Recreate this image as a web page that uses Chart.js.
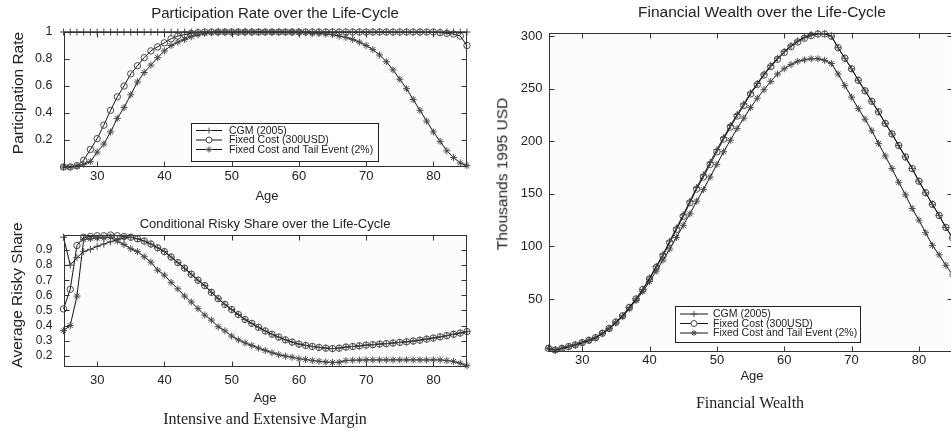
<!DOCTYPE html>
<html>
<head>
<meta charset="utf-8">
<script src="https://cdn.jsdelivr.net/npm/chart.js@4.4.1/dist/chart.umd.min.js"></script>
<style>
  html, body { margin: 0; padding: 0; background: #fff; overflow: hidden; }
  body { width: 951px; height: 432px; position: relative; font-family: "Liberation Sans", Arial, sans-serif; color: #222; }
  canvas { position: absolute; }
  .t { position: absolute; white-space: nowrap; transform: translate(-50%, -50%); line-height: 1; }
  .rot { transform: translate(-50%, -50%) rotate(-90deg); }
  .cap { font-family: "Liberation Serif", "Times New Roman", serif; }
</style>
</head>
<body>
<canvas id="part" width="480" height="190" style="left:0;top:0;width:480px;height:190px"></canvas>
<canvas id="risk" width="480" height="200" style="left:0;top:200px;width:480px;height:200px"></canvas>
<canvas id="wealth" width="480" height="380" style="left:480px;top:0;width:480px;height:380px"></canvas>

<div class="t" style="left:275px;top:12px;font-size:15px">Participation Rate over the Life-Cycle</div>
<div class="t rot" style="left:18px;top:93px;font-size:15.5px">Participation Rate</div>
<div class="t" style="left:267px;top:195px;font-size:13px">Age</div>

<div class="t" style="left:265px;top:223px;font-size:13px">Conditional Risky Share over the Life-Cycle</div>
<div class="t rot" style="left:17px;top:295px;font-size:15.5px">Average Risky Share</div>
<div class="t" style="left:265px;top:397px;font-size:13px">Age</div>
<div class="t cap" style="left:265px;top:419px;font-size:16px">Intensive and Extensive Margin</div>

<div class="t" style="left:762px;top:12px;font-size:15.5px">Financial Wealth over the Life-Cycle</div>
<div class="t rot" style="left:502px;top:174px;font-size:15.5px">Thousands 1995 USD</div>
<div class="t" style="left:752px;top:375px;font-size:13px">Age</div>
<div class="t cap" style="left:750px;top:403px;font-size:16px">Financial Wealth</div>

<script>
// ages 25..85
const ages = [25, 26, 27, 28, 29, 30, 31, 32, 33, 34, 35, 36, 37, 38, 39, 40, 41, 42, 43, 44, 45,
  46, 47, 48, 49, 50, 51, 52, 53, 54, 55, 56, 57, 58, 59, 60, 61, 62, 63, 64, 65,
  66, 67, 68, 69, 70, 71, 72, 73, 74, 75, 76, 77, 78, 79, 80, 81, 82, 83, 84, 85];

const seriesNames = ["CGM (2005)", "Fixed Cost (300USD)", "Fixed Cost and Tail Event (2%)"];

// participation rate
const partCGM = [1, 1, 1, 1, 1, 1, 1, 1, 1, 1, 1, 1, 1, 1, 1, 1, 1, 1, 1, 1, 1,
  1, 1, 1, 1, 1, 1, 1, 1, 1, 1, 1, 1, 1, 1, 1, 1, 1, 1, 1, 1,
  1, 1, 1, 1, 1, 1, 1, 1, 1, 1, 1, 1, 1, 1, 1, 1, 1, 1, 1, 1];
const partFixed = [0, 0, 0.01, 0.05, 0.13, 0.21, 0.31, 0.42, 0.52, 0.6, 0.69, 0.75, 0.81, 0.86, 0.89, 0.92, 0.95, 0.97, 0.98, 0.99, 0.995,
  1, 1, 1, 1, 1, 1, 1, 1, 1, 1, 1, 1, 1, 1, 1, 1, 1, 1, 1, 1,
  1, 1, 1, 1, 1, 1, 1, 1, 1, 1, 1, 1, 1, 1, 1, 0.995, 0.99, 0.985, 0.97, 0.9];
const partTail = [0, 0, 0.005, 0.02, 0.04, 0.11, 0.17, 0.26, 0.36, 0.44, 0.535, 0.63, 0.7, 0.755, 0.81, 0.86, 0.9, 0.925, 0.945, 0.965, 0.98,
  0.99, 0.995, 1, 1, 1, 1, 1, 1, 1, 1, 1, 1, 1, 1, 1, 0.995, 0.99, 0.99, 0.985, 0.98,
  0.97, 0.96, 0.945, 0.925, 0.9, 0.87, 0.83, 0.78, 0.72, 0.65, 0.58, 0.5, 0.42, 0.34, 0.26, 0.19, 0.12, 0.07, 0.03, 0.01];

// conditional risky share
const riskCGM = [0.985, 0.8, 0.85, 0.89, 0.905, 0.925, 0.94, 0.955, 0.97, 0.98, 0.985, 0.975, 0.96, 0.94, 0.915, 0.89, 0.854, 0.817, 0.78, 0.74, 0.7,
  0.665, 0.62, 0.578, 0.54, 0.506, 0.473, 0.44, 0.414, 0.388, 0.364, 0.342, 0.323, 0.305, 0.29, 0.277, 0.268, 0.261, 0.255, 0.25, 0.247,
  0.25, 0.257, 0.261, 0.265, 0.27, 0.273, 0.277, 0.28, 0.284, 0.288, 0.292, 0.297, 0.303, 0.31, 0.317, 0.325, 0.333, 0.342, 0.35, 0.36];
const riskFixed = [0.51, 0.64, 0.93, 0.985, 0.99, 0.995, 0.995, 1, 0.995, 0.99, 0.985, 0.975, 0.96, 0.94, 0.915, 0.89, 0.854, 0.817, 0.78, 0.74, 0.7,
  0.665, 0.62, 0.578, 0.54, 0.506, 0.473, 0.44, 0.414, 0.388, 0.364, 0.342, 0.323, 0.305, 0.29, 0.277, 0.268, 0.261, 0.255, 0.25, 0.247,
  0.25, 0.257, 0.261, 0.265, 0.27, 0.273, 0.277, 0.28, 0.284, 0.288, 0.292, 0.297, 0.303, 0.31, 0.317, 0.325, 0.333, 0.342, 0.35, 0.36];
const riskTail = [0.366, 0.4, 0.595, 0.97, 0.975, 0.98, 0.98, 0.985, 0.96, 0.937, 0.909, 0.89, 0.856, 0.82, 0.767, 0.734, 0.686, 0.643, 0.595, 0.556, 0.512,
  0.469, 0.436, 0.392, 0.365, 0.33, 0.305, 0.285, 0.268, 0.25, 0.235, 0.22, 0.207, 0.197, 0.19, 0.18, 0.175, 0.168, 0.163, 0.158, 0.155,
  0.157, 0.168, 0.17, 0.171, 0.172, 0.172, 0.172, 0.172, 0.172, 0.172, 0.172, 0.172, 0.172, 0.172, 0.172, 0.172, 0.168, 0.162, 0.15, 0.133];

// financial wealth, thousands 1995 USD
const wealthCGM = [3, 1.5, 3, 4.7, 6.3, 8.5, 10.7, 13.2, 17.4, 22, 28, 34, 42, 50, 59, 70, 81, 92.5, 105, 117.5, 130,
  143, 156, 168, 180, 192, 203.5, 215, 225.5, 235.5, 246, 255, 264, 272, 279, 285.5, 291, 295.5, 299, 301.5, 302.5,
  302.5, 300, 289, 279, 269, 258, 248, 238, 228, 217, 207, 196, 185, 174, 162, 151, 140, 129.5, 118, 108];
const wealthFixed = [3, 1.5, 3, 4.7, 6.3, 8.5, 10.7, 13.2, 17.4, 22, 28, 34, 42, 50, 59, 69, 80, 91, 103.5, 116, 128.5,
  141.5, 154.5, 166, 178, 190, 202, 213.5, 224, 234, 245, 254, 263, 271, 278, 284.5, 290, 294.5, 298, 300.5, 302,
  302, 300, 289, 279, 269, 258, 248, 238, 228, 217, 207, 196, 185, 174, 162, 151, 140, 129.5, 118, 108];
const wealthTail = [3, 1.5, 3, 4.7, 6.3, 8.3, 10.5, 13, 17, 21.5, 27, 33, 40.5, 48.5, 57, 66.5, 76.5, 87, 97.5, 108.5, 120,
  131, 143, 154, 166, 178, 190, 201, 212, 222, 232, 241, 249, 257, 264, 269, 273, 276, 277.5, 278.5, 278.5,
  277, 274, 264, 253, 242, 231, 221, 210, 198, 186, 174, 161, 149, 136, 125, 113, 101, 92, 82, 73];

// ticks
const ageTicks = [30, 40, 50, 60, 70, 80];
const ageTickLabels = ["30", "40", "50", "60", "70", "80"];
const partTicks = [0.2, 0.4, 0.6, 0.8, 1];
const partTickLabels = ["0.2", "0.4", "0.6", "0.8", "1"];
const riskTicks = [0.2, 0.3, 0.4, 0.5, 0.6, 0.7, 0.8, 0.9];
const riskTickLabels = ["0.2", "0.3", "0.4", "0.5", "0.6", "0.7", "0.8", "0.9"];
const wealthTicks = [50, 100, 150, 200, 250, 300];
const wealthTickLabels = ["50", "100", "150", "200", "250", "300"];

const styles = ["cross", "circle", "star"];

Chart.defaults.font.family = '"Liberation Sans", Arial, sans-serif';
Chart.defaults.color = "#222";

function toPoints(vals) {
  return ages.map((a, i) => ({ x: a, y: vals[i] }));
}

function makeSets(lists, r) {
  return lists.map((vals, k) => ({
    label: seriesNames[k],
    data: toPoints(vals),
    borderColor: "#151515",
    borderWidth: 1,
    pointStyle: styles[k],
    pointRadius: k === 1 ? r - 0.3 : r,
    pointBorderWidth: 1,
    pointBorderColor: "#4a4a4a",
    pointBackgroundColor: "rgba(0,0,0,0)",
    tension: 0,
    clip: false
  }));
}

// plot background, box with inward ticks on all sides, legend
const framePlugin = {
  id: "frame",
  beforeDraw(chart) {
    const a = chart.chartArea, ctx = chart.ctx;
    ctx.save();
    ctx.fillStyle = "#fcfcfc";
    ctx.fillRect(a.left, a.top, a.right - a.left, a.bottom - a.top);
    ctx.restore();
  },
  afterDatasetsDraw(chart, args, opts) {
    const a = chart.chartArea, ctx = chart.ctx;
    const xs = chart.scales.x, ys = chart.scales.y;
    ctx.save();
    ctx.strokeStyle = "#333";
    ctx.lineWidth = 1;
    const L = Math.round(a.left) + 0.5, R = Math.round(a.right) - 0.5;
    const T = Math.round(a.top) + 0.5, B = Math.round(a.bottom) - 0.5;
    ctx.strokeRect(L, T, R - L, B - T);
    ctx.beginPath();
    xs.ticks.forEach(t => {
      const p = Math.round(xs.getPixelForValue(t.value)) + 0.5;
      ctx.moveTo(p, B); ctx.lineTo(p, B - 5);
      ctx.moveTo(p, T); ctx.lineTo(p, T + 5);
    });
    ys.ticks.forEach(t => {
      const p = Math.round(ys.getPixelForValue(t.value)) + 0.5;
      ctx.moveTo(L, p); ctx.lineTo(L + 5, p);
      ctx.moveTo(R, p); ctx.lineTo(R - 5, p);
    });
    ctx.stroke();

    const lg = opts.legend;
    if (lg) {
      ctx.fillStyle = "#fff";
      ctx.fillRect(lg.x, lg.y, lg.w, lg.h);
      ctx.strokeStyle = "#222";
      ctx.strokeRect(lg.x + 0.5, lg.y + 0.5, lg.w, lg.h);
      ctx.font = '10.5px "Liberation Sans", Arial, sans-serif';
      ctx.textBaseline = "middle";
      chart.data.datasets.forEach((ds, k) => {
        const y = lg.y + lg.row0 + k * lg.step;
        ctx.strokeStyle = "#151515";
        ctx.beginPath();
        ctx.moveTo(lg.x + 5, y + 0.5);
        ctx.lineTo(lg.x + 5 + lg.line, y + 0.5);
        ctx.stroke();
        ctx.strokeStyle = "#4a4a4a";
        ctx.fillStyle = "#fff";
        Chart.helpers.drawPoint(ctx, { pointStyle: ds.pointStyle, radius: 3, borderWidth: 1, rotation: 0 },
          lg.x + 5 + lg.line / 2, y + 0.5);
        ctx.fillStyle = "#222";
        ctx.fillText(ds.label, lg.x + lg.text, y + 1);
      });
    }
    ctx.restore();
  }
};

function makeChart(id, cfg) {
  return new Chart(document.getElementById(id), {
    type: "line",
    data: { datasets: makeSets(cfg.lists, cfg.r) },
    plugins: [framePlugin],
    options: {
      responsive: false,
      animation: false,
      events: [],
      layout: { padding: cfg.pad },
      plugins: {
        legend: { display: false },
        tooltip: { enabled: false },
        title: { display: false },
        frame: { legend: cfg.legend }
      },
      scales: {
        x: {
          type: "linear", min: 25, max: 85,
          grid: { display: false, drawTicks: false },
          border: { display: false },
          ticks: { padding: cfg.xPad, font: { size: cfg.xFont }, callback: (v, i) => ageTickLabels[i] },
          afterBuildTicks: s => { s.ticks = ageTicks.map(v => ({ value: v })); },
          afterFit: s => { s.height = cfg.xHeight; }
        },
        y: {
          type: "linear", min: cfg.yMin, max: cfg.yMax,
          grid: { display: false, drawTicks: false },
          border: { display: false },
          ticks: { padding: cfg.yPad, font: { size: cfg.yFont }, callback: (v, i) => cfg.yLabels[i] },
          afterBuildTicks: s => { s.ticks = cfg.yTicks.map(v => ({ value: v })); },
          afterFit: s => { s.width = cfg.yWidth; }
        }
      }
    }
  });
}

makeChart("part", {
  lists: [partCGM, partFixed, partTail], r: 3.5,
  pad: { top: 32, right: 13, bottom: 0, left: 0 },
  yMin: 0, yMax: 1, yTicks: partTicks, yLabels: partTickLabels,
  yWidth: 63.5, xHeight: 23, xPad: 1.5, yPad: 11, xFont: 13, yFont: 12.5,
  legend: { x: 191, y: 123, w: 187, h: 38, row0: 7, step: 9.5, line: 26, text: 38 }
});

makeChart("risk", {
  lists: [riskCGM, riskFixed, riskTail], r: 3.5,
  pad: { top: 35, right: 13, bottom: 0, left: 0 },
  yMin: 0.125, yMax: 1, yTicks: riskTicks, yLabels: riskTickLabels,
  yWidth: 63.5, xHeight: 33, xPad: 5.5, yPad: 11, xFont: 13, yFont: 12
});

makeChart("wealth", {
  lists: [wealthCGM, wealthFixed, wealthTail], r: 3.5,
  pad: { top: 33, right: 7.4, bottom: 0, left: 0 },
  yMin: 0, yMax: 303, yTicks: wealthTicks, yLabels: wealthTickLabels,
  yWidth: 68.5, xHeight: 28.5, xPad: 1.5, yPad: 6, xFont: 13, yFont: 13,
  legend: { x: 195, y: 306, w: 185, h: 36, row0: 7.5, step: 9.5, line: 28, text: 38 }
});
</script>
</body>
</html>
